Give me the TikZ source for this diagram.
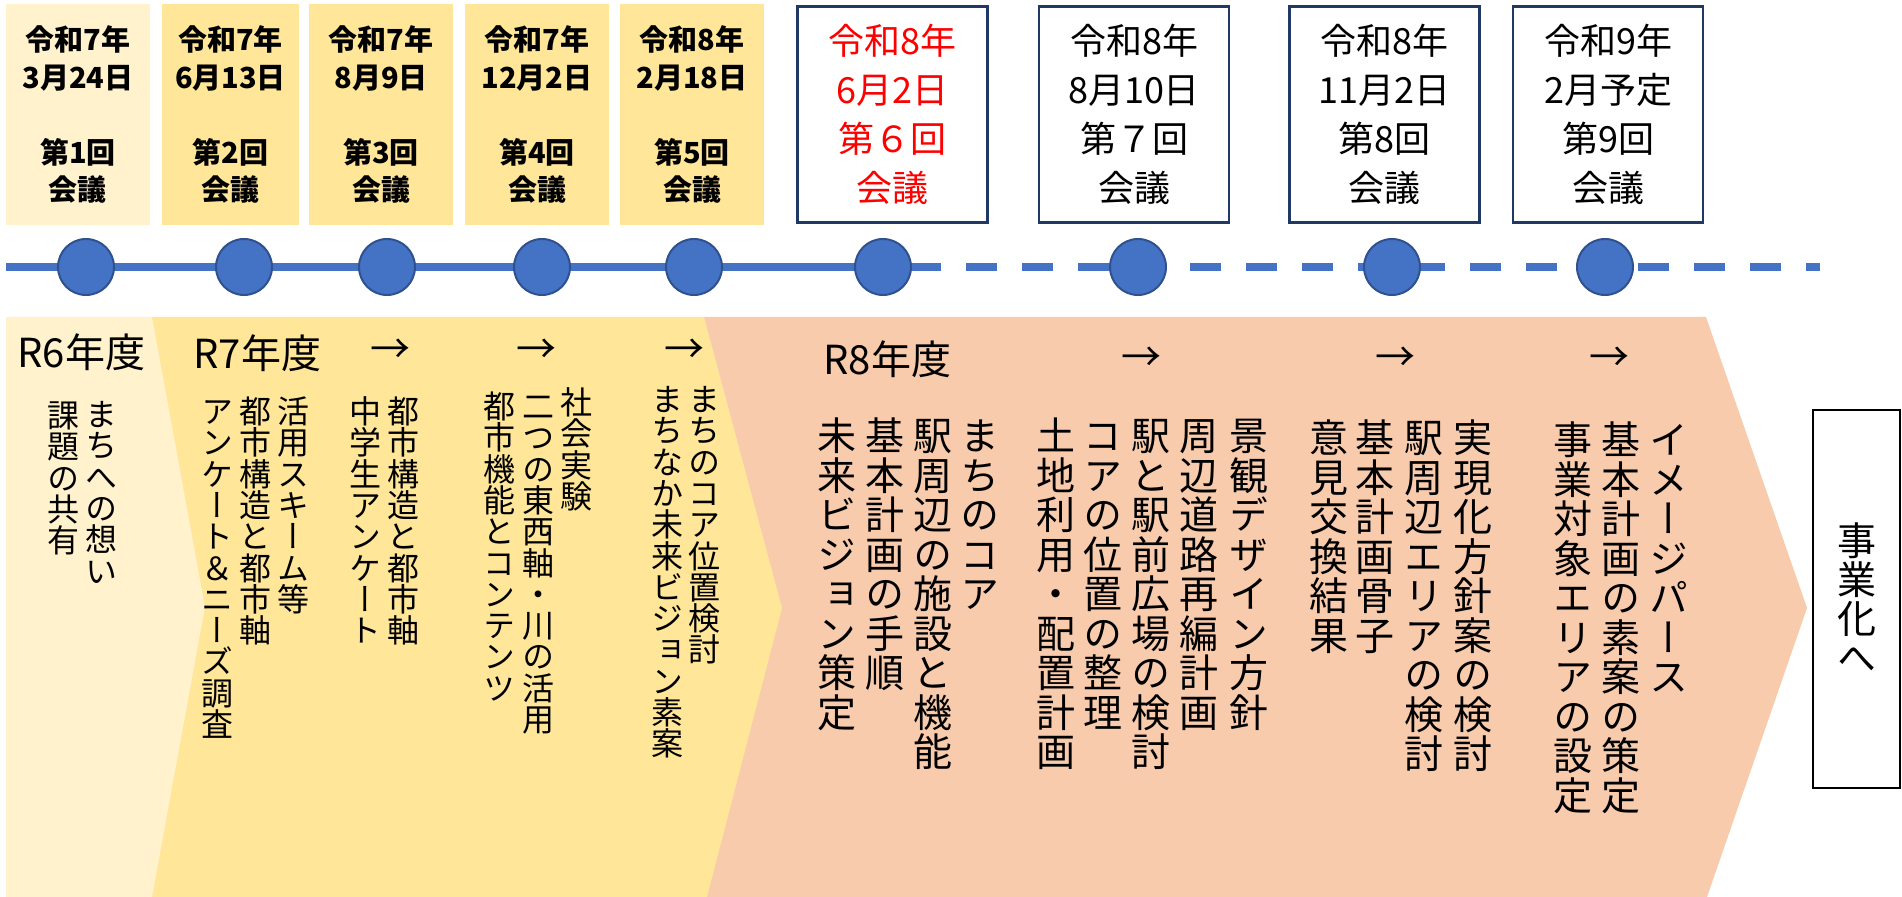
\documentclass[tikz,border=0pt]{standalone}
\usepackage{fontspec}
\newfontfamily\jpfont{Noto Sans CJK JP}
\newfontfamily\jptate[RawFeature=+vert]{Noto Sans CJK JP}
\definecolor{rsixcream}{HTML}{FFF2CC}
\definecolor{rsevengold}{HTML}{FFE699}
\definecolor{reightpeach}{HTML}{F8CBAD}
\definecolor{lineblue}{HTML}{4472C4}
\definecolor{lineedge}{HTML}{2F528F}
\definecolor{boxnavy}{HTML}{1F3864}
\newlength\tatepitch
\makeatletter
\newcommand\tate[1]{\vtop{\baselineskip=\tatepitch\lineskiplimit=-\maxdimen\lineskip=0pt\tate@loop#1\@nil}}
\def\tate@loop#1{\ifx\@nil#1\else\hbox to 1em{\vrule height .88em depth .12em width 0pt\hss#1\hss}\expandafter\tate@loop\fi}
\makeatother
\begin{document}
\begin{tikzpicture}[x=0.5pt,y=-0.5pt,
		every node/.style={inner sep=0pt},
		pastbox/.style={rectangle,fill=rsevengold,minimum width=72pt,minimum height=110.5pt,align=center,
			font=\jpfont\bfseries\fontsize{14.5pt}{18.75pt}\selectfont},
		nextbox/.style={rectangle,draw=boxnavy,line width=1.1pt,fill=white,minimum width=95pt,minimum height=108pt,align=center,
			font=\jpfont\fontsize{18pt}{24.5pt}\selectfont},
		meet/.style={circle,fill=lineblue,draw=lineedge,line width=1pt,minimum size=28pt},
		tline/.style={draw=lineblue,line width=4pt},
		yearlbl/.style={anchor=base west,font=\jpfont\fontsize{20pt}{20pt}\selectfont},
		flowarrow/.style={anchor=center,font=\jpfont\fontsize{20pt}{20pt}\selectfont},
		tatesmall/.style={anchor=north,font=\jptate\fontsize{16pt}{16pt}\selectfont,
			execute at begin node={\setlength\tatepitch{15.65pt}}},
		tatelarge/.style={anchor=north,font=\jptate\fontsize{19.5pt}{19.5pt}\selectfont,
			execute at begin node={\setlength\tatepitch{19.75pt}}},
		goalbox/.style={rectangle,draw=black,line width=1pt,fill=white,minimum width=43.5pt,minimum height=189pt,
			font=\jptate\fontsize{19.5pt}{19.5pt}\selectfont,execute at begin node={\setlength\tatepitch{19.5pt}}}]
	\useasboundingbox (0,0) rectangle (1902,897);
	\fill[reightpeach] (704,317) -- (1706,317) -- (1807,608) -- (1707,897) -- (707,897) -- cycle;
	\fill[rsevengold] (152,317) -- (704,317) -- (782,608) -- (707,897) -- (152,897) -- cycle;
	\fill[rsixcream] (6,317) -- (152,317) -- (205,607) -- (152,897) -- (6,897) -- cycle;
	\node[pastbox,fill=rsixcream] (k1) at (78,114.5)
		{令和7年\\3月24日\\~\\第1回\\会議};
	\node[pastbox,minimum width=68.5pt] (k2) at (230.5,114.5)
		{令和7年\\6月13日\\~\\第2回\\会議};
	\node[pastbox] (k3) at (381,114.5)
		{令和7年\\8月9日\\~\\第3回\\会議};
	\node[pastbox] (k4) at (537,114.5)
		{令和7年\\12月2日\\~\\第4回\\会議};
	\node[pastbox] (k5) at (692,114.5)
		{令和8年\\2月18日\\~\\第5回\\会議};
	\node[nextbox,text=red] (k6) at (892.5,114.5)
		{令和8年\\6月2日\\第６回\\会議};
	\node[nextbox] (k7) at (1134,114.5)
		{令和8年\\8月10日\\第７回\\会議};
	\node[nextbox] (k8) at (1384.5,114.5)
		{令和8年\\11月2日\\第8回\\会議};
	\node[nextbox] (k9) at (1608,114.5)
		{令和9年\\2月予定\\第9回\\会議};
	\coordinate (tlstart) at (6,267);
	\coordinate (tlsplit) at (854,267);
	\coordinate (tlend) at (1820,267);
	\draw[tline] (tlstart) -- (tlsplit);
	\draw[tline,dash pattern=on 15.5pt off 12.5pt] (tlsplit) -- (tlend);
	\node[meet] (m1) at (86,267) {};
	\node[meet] (m2) at (244,267) {};
	\node[meet] (m3) at (387,267) {};
	\node[meet] (m4) at (542,267) {};
	\node[meet] (m5) at (694,267) {};
	\node[meet] (m6) at (883,267) {};
	\node[meet] (m7) at (1138,267) {};
	\node[meet] (m8) at (1392,267) {};
	\node[meet] (m9) at (1605,267) {};
	\node[yearlbl] (y6) at (17,368) {R6年度};
	\node[yearlbl] (y7) at (193,369) {R7年度};
	\node[yearlbl] (y8) at (823,375) {R8年度};
	\node[flowarrow] (f1) at (390,351) {→};
	\node[flowarrow] (f2) at (536,351) {→};
	\node[flowarrow] (f3) at (684,351) {→};
	\node[flowarrow] (f4) at (1141,359) {→};
	\node[flowarrow] (f5) at (1395,359) {→};
	\node[flowarrow] (f6) at (1609,359) {→};
	\node[tatesmall] (r6a) at (101,398) {\tate{まちへの想い}};
	\node[tatesmall] (r6b) at (63,399) {\tate{課題の共有}};
	\node[tatesmall] (r7a) at (293,395) {\tate{活用スキーム等}};
	\node[tatesmall] (r7b) at (255,395) {\tate{都市構造と都市軸}};
	\node[tatesmall] (r7c) at (217,395) {\tate{アンケート＆ニーズ調査}};
	\node[tatesmall] (r7d) at (403,395) {\tate{都市構造と都市軸}};
	\node[tatesmall] (r7e) at (365,395) {\tate{中学生アンケート}};
	\node[tatesmall] (r7f) at (576,386) {\tate{社会実験}};
	\node[tatesmall] (r7g) at (538,390) {\tate{二つの東西軸・川の活用}};
	\node[tatesmall] (r7h) at (499,390) {\tate{都市機能とコンテンツ}};
	\node[tatesmall] (r7i) at (704,383) {\tate{まちのコア位置検討}};
	\node[tatesmall] (r7j) at (667,383) {\tate{まちなか未来ビジョン素案}};
	\node[tatelarge] (r8a) at (980,416) {\tate{まちのコア}};
	\node[tatelarge] (r8b) at (933,416) {\tate{駅周辺の施設と機能}};
	\node[tatelarge] (r8c) at (885,416) {\tate{基本計画の手順}};
	\node[tatelarge] (r8d) at (837,416) {\tate{未来ビジョン策定}};
	\node[tatelarge] (r8e) at (1249,416) {\tate{景観デザイン方針}};
	\node[tatelarge] (r8f) at (1199,416) {\tate{周辺道路再編計画}};
	\node[tatelarge] (r8g) at (1151,416) {\tate{駅と駅前広場の検討}};
	\node[tatelarge] (r8h) at (1103,416) {\tate{コアの位置の整理}};
	\node[tatelarge] (r8i) at (1056,416) {\tate{土地利用・配置計画}};
	\node[tatelarge] (r8j) at (1473,418) {\tate{実現化方針案の検討}};
	\node[tatelarge] (r8k) at (1424,418) {\tate{駅周辺エリアの検討}};
	\node[tatelarge] (r8l) at (1375,418) {\tate{基本計画骨子}};
	\node[tatelarge] (r8m) at (1329,418) {\tate{意見交換結果}};
	\node[tatelarge] (r8n) at (1669,420) {\tate{イメージパース}};
	\node[tatelarge] (r8o) at (1621,420) {\tate{基本計画の素案の策定}};
	\node[tatelarge] (r8p) at (1573,420) {\tate{事業対象エリアの設定}};
	\node[goalbox] (goal) at (1856.5,599) {\tate{事業化へ}};
\end{tikzpicture}
\end{document}
